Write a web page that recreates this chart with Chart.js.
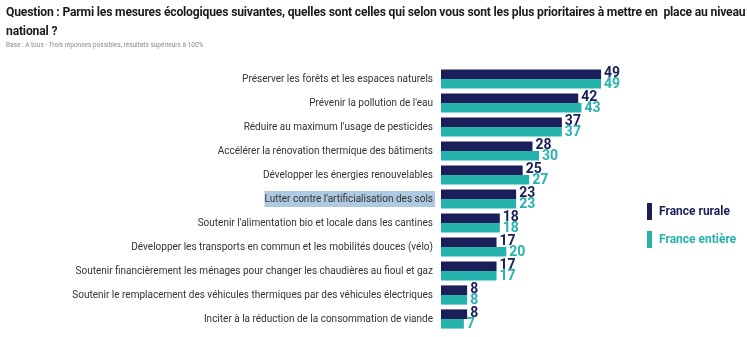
<!DOCTYPE html>
<html lang="fr">
<head>
<meta charset="UTF-8">
<title>Mesures écologiques</title>
<script src="https://cdn.jsdelivr.net/npm/chart.js"></script>
<style>
  body { margin: 0; background: #fff; font-family: Roboto, sans-serif; }
  .wrap { position: relative; width: 747px; height: 337px; overflow: hidden; }
  .title { position: absolute; left: 6px; top: 2px; white-space: nowrap; font-weight: 700; font-size: 13px; line-height: 19px; color: #1b1b1b; letter-spacing: -0.2px; transform: scaleX(0.935); transform-origin: left top; }
  .base { position: absolute; left: 6px; top: 41px; font-size: 6.5px; color: #8a8a8a; }
  canvas { position: absolute; left: 0; top: 0; }
  .leg { position: absolute; left: 647px; font-weight: 700; font-size: 12px; }
  .leg span { display: inline-block; width: 5px; height: 17px; vertical-align: middle; margin-right: 7px; }
</style>
</head>
<body>
<div class="wrap">
  <canvas id="chart" width="747" height="337"></canvas>
  <div class="title">Question : Parmi les mesures écologiques suivantes, quelles sont celles qui selon vous sont les plus prioritaires à mettre en&nbsp; place au niveau<br>national ?</div>
  <div class="base">Base : A tous - Trois réponses possibles, résultats supérieurs à 100%</div>
  <div class="leg" style="top:203px;color:#1a1f5a"><span style="background:#1a1f5a"></span>France rurale</div>
  <div class="leg" style="top:231px;color:#26b3ad"><span style="background:#26b3ad"></span>France entière</div>
</div>
<script>
  // données
  const mesures = [
    'Préserver les forêts et les espaces naturels',
    'Prévenir la pollution de l\'eau',
    'Réduire au maximum l\'usage de pesticides',
    'Accélérer la rénovation thermique des bâtiments',
    'Développer les énergies renouvelables',
    'Lutter contre l\'artificialisation des sols',
    'Soutenir l\'alimentation bio et locale dans les cantines',
    'Développer les transports en commun et les mobilités douces (vélo)',
    'Soutenir financièrement les ménages pour changer les chaudières au fioul et gaz',
    'Soutenir le remplacement des véhicules thermiques par des véhicules électriques',
    'Inciter à la réduction de la consommation de viande'
  ];
  const franceRurale = [49, 42, 37, 28, 25, 23, 18, 17, 17, 8, 8];
  const franceEntiere = [49, 43, 37, 30, 27, 23, 18, 20, 17, 8, 7];
  const highlighted = 5; // libellé surligné

  const navy = '#1a1f5a';
  const teal = '#26b3ad';
  const labelFont = { family: 'Roboto', size: 10 };

  // surlignage du libellé + étiquettes de valeurs
  const labelsPlugin = {
    id: 'labelsPlugin',
    beforeDraw(chart) {
      const ctx = chart.ctx;
      const y = chart.scales.y;
      ctx.save();
      ctx.font = labelFont.size + 'px ' + labelFont.family;
      const w = ctx.measureText(mesures[highlighted]).width;
      const yc = y.getPixelForTick(highlighted);
      ctx.fillStyle = '#afc9e3';
      ctx.fillRect(y.right - 7 - w - 1, yc - 8, w + 2, 16);
      ctx.restore();
    },
    afterDatasetsDraw(chart) {
      const ctx = chart.ctx;
      ctx.save();
      ctx.font = 'bold 14px Roboto';
      ctx.textBaseline = 'middle';
      chart.data.datasets.forEach((ds, i) => {
        const meta = chart.getDatasetMeta(i);
        ctx.fillStyle = ds.backgroundColor;
        meta.data.forEach((bar, j) => {
          ctx.fillText(ds.data[j], bar.x + 3, bar.y + (i === 0 ? -1 : 1));
        });
      });
      ctx.restore();
    }
  };

  new Chart(document.getElementById('chart'), {
    type: 'bar',
    data: {
      labels: mesures,
      datasets: [
        { label: 'France rurale', data: franceRurale, backgroundColor: navy },
        { label: 'France entière', data: franceEntiere, backgroundColor: teal }
      ]
    },
    options: {
      indexAxis: 'y',
      responsive: false,
      animation: false,
      layout: { padding: { top: 67, bottom: 0, right: 110, left: 0 } },
      datasets: { bar: { categoryPercentage: 0.8, barPercentage: 1 } },
      plugins: { legend: { display: false }, tooltip: { enabled: false } },
      scales: {
        x: { min: 0, max: 60, display: false },
        y: {
          afterFit(s) { s.width = 441; },
          grid: { display: false },
          border: { display: false },
          ticks: { color: '#333', font: labelFont, padding: 0 }
        }
      }
    },
    plugins: [labelsPlugin]
  });
</script>
</body>
</html>
